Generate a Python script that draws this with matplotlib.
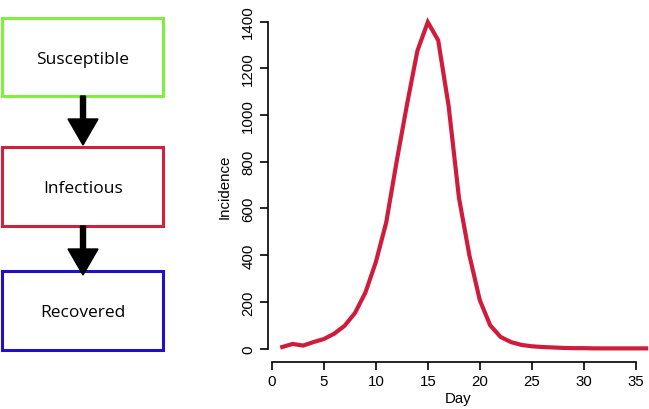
""" SIR diagram with incidence curve """
import numpy as np
import matplotlib
matplotlib.use("Agg")
import matplotlib.pyplot as plt
from matplotlib.patches import Rectangle, FancyArrow

# data
days = np.arange(1, 37)
incidence = [7, 20, 13, 28, 41, 64, 98, 153, 240, 370, 540, 800, 1045, 1275, 1398, 1320,
             1040, 645, 400, 208, 100, 50, 28, 16, 10, 7, 5, 3, 2, 2, 1, 1, 1, 1, 1, 1]
x_ticks = [0, 5, 10, 15, 20, 25, 30, 35]
y_ticks = [0, 200, 400, 600, 800, 1000, 1200, 1400]

compartments = ["Susceptible", "Infectious", "Recovered"]
box_colors = ["#80f040", "#d0203c", "#2010c8"]
line_color = "#d01c3c"

W, H = 649, 410
plt.rcParams['font.family'] = ['Liberation Sans', 'DejaVu Sans']
fig = plt.figure(figsize=(W / 100, H / 100), dpi=100)

# incidence plot, R style
ax = fig.add_axes([267.7 / W, (H - 362.7) / H, (W - 267.7) / W, (362.7 - 10) / H])
ax.plot(days, incidence, color=line_color, lw=3, solid_joinstyle='miter', clip_on=False)
ax.set_xlim(-0.4, (W - 271.7) / 10.4)
ax.set_ylim(-56, 1454)
ax.set_xticks(x_ticks)
ax.set_yticks(y_ticks)
ax.set_yticklabels([str(v) for v in y_ticks], rotation=90, va='center')
for side in ['top', 'right']:
    ax.spines[side].set_visible(False)
ax.spines['left'].set_bounds(0, 1400)
ax.spines['bottom'].set_bounds(0, 35)
for side in ['left', 'bottom']:
    ax.spines[side].set_linewidth(1.2)
ax.tick_params(direction='out', length=6, width=1.2, labelsize=10.8, pad=3)
ax.set_xlabel('Day', fontsize=10.8, labelpad=2)
ax.set_ylabel('Incidence', fontsize=10.8, labelpad=7)

# compartment diagram, in pixel coordinates
dg = fig.add_axes([0, 0, 1, 1], zorder=-1)
dg.set_xlim(0, W)
dg.set_ylim(H, 0)
dg.axis('off')
boxes = [(19, 97), (148, 227), (272, 351)]
for (top, bottom), name, col in zip(boxes, compartments, box_colors):
    dg.add_patch(Rectangle((2, top), 161, bottom - top, fill=False, ec=col, lw=2.2))
    dg.text(83, (top + bottom) / 2 + 2, name, ha='center', va='center', fontsize=12.5,
            family=['Open Sans', 'DejaVu Sans'])
for start, end in [(97, 146), (227, 276)]:
    dg.add_patch(FancyArrow(83, start, 0, end - start, width=5, head_width=30,
                            head_length=26, length_includes_head=True, color='black'))

fig.savefig('out.png', dpi=100)
